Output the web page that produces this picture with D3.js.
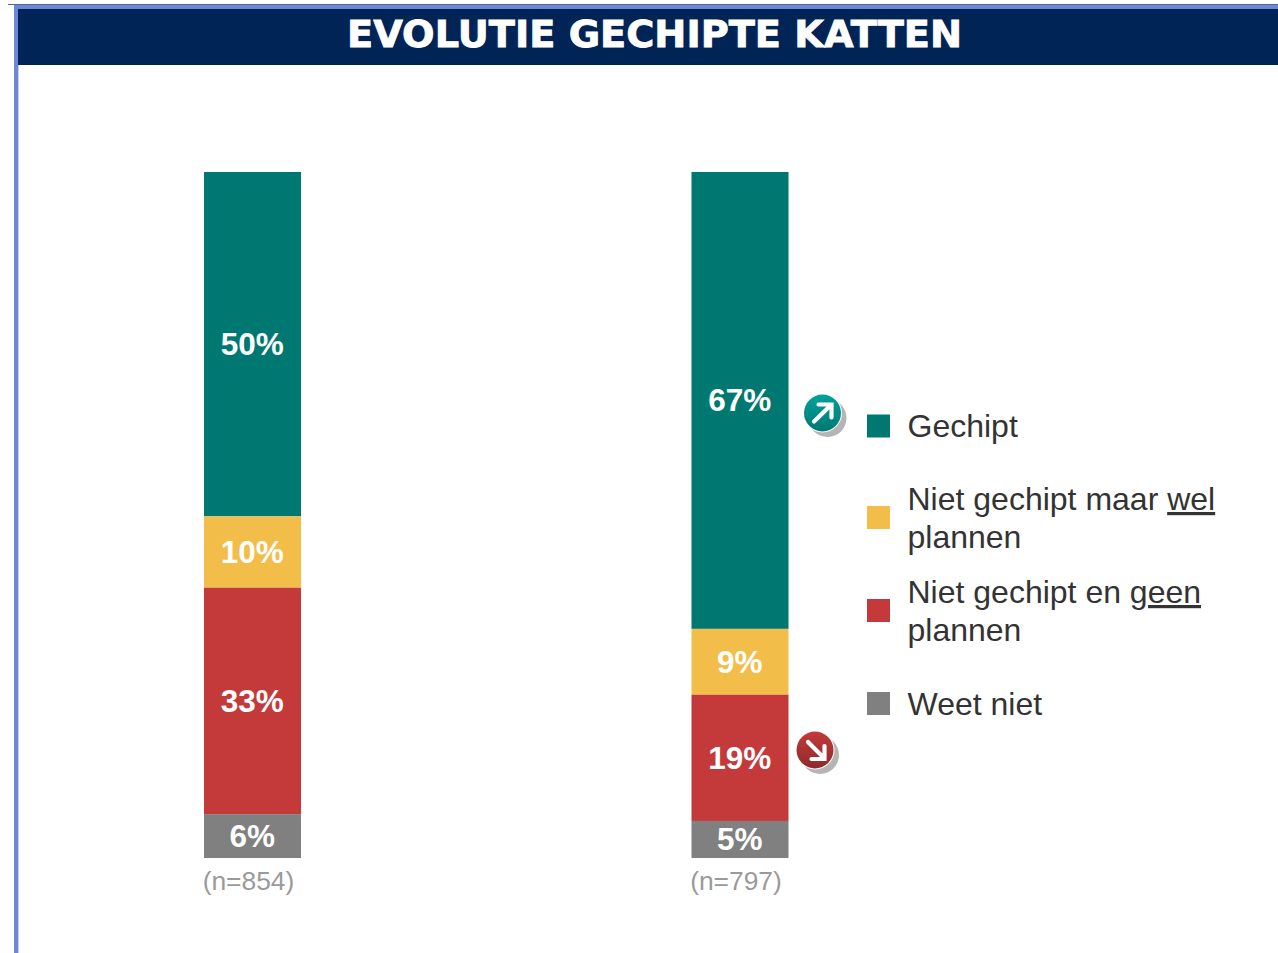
<!DOCTYPE html>
<html><head><meta charset="utf-8">
<script src="https://cdnjs.cloudflare.com/ajax/libs/d3/7.8.5/d3.min.js"></script>
<style>html,body{margin:0;padding:0;background:#fff;overflow:hidden}svg{display:block}text,tspan{text-decoration-skip-ink:none}</style>
</head><body><svg id="c" width="1278" height="953"></svg>
<script>
const title = "EVOLUTIE GECHIPTE KATTEN";
const groups = ["2019", "2022"];
const sampleLabels = ["(n=854)", "(n=797)"];
const seriesNames = ["Gechipt", "Niet gechipt maar wel plannen", "Niet gechipt en geen plannen", "Weet niet"];
const seriesColors = ["#007872", "#f2bd49", "#c43a3a", "#808080"];
const gechipt = [50.2, 66.6];
const nietMaarWel = [10.4, 9.6];
const nietEnGeen = [33.0, 18.4];
const weetNiet = [6.4, 5.4];
const gechiptLabels = ["50%", "67%"];
const nietMaarWelLabels = ["10%", "9%"];
const nietEnGeenLabels = ["33%", "19%"];
const weetNietLabels = ["6%", "5%"];

const svg = d3.select("#c");
const font = "'Liberation Sans', Arial, sans-serif";

// Slide frame
svg.append("rect").attr("x",8).attr("y",4).attr("width",1270).attr("height",1).attr("fill","#55688f");
svg.append("rect").attr("x",14).attr("y",5).attr("width",1264).attr("height",4).attr("fill","#6f86d6");
svg.append("rect").attr("x",14).attr("y",5).attr("width",4).attr("height",948).attr("fill","#6f86d6");
svg.append("rect").attr("x",18).attr("y",65).attr("width",1).attr("height",888).attr("fill","#c3cdf0");
svg.append("rect").attr("x",18).attr("y",9).attr("width",1260).attr("height",56).attr("fill","#002455");
svg.append("text").attr("x",347).attr("y",47)
  .attr("font-family","'DejaVu Sans', Verdana, sans-serif").attr("font-weight",700)
  .attr("font-size",36.5).attr("fill","#fff").attr("stroke","#fff").attr("stroke-width",0.8)
  .attr("textLength",615).attr("lengthAdjust","spacingAndGlyphs").text(title);

const x = d3.scaleOrdinal().domain(groups).range([204, 691.5]);
const barW = 97;
const y = d3.scaleLinear().domain([0,100]).range([858,172]);

const rows = groups.map((g,i)=>({group:g, a:gechipt[i], b:nietMaarWel[i], c:nietEnGeen[i], d:weetNiet[i]}));
const keys = ["a","b","c","d"];
const labelSets = [gechiptLabels, nietMaarWelLabels, nietEnGeenLabels, weetNietLabels];
const stack = d3.stack().keys(keys).order(d3.stackOrderReverse)(rows);

stack.forEach(layer=>{
  const si = keys.indexOf(layer.key);
  const g = svg.append("g");
  g.selectAll("rect").data(layer).join("rect")
    .attr("x",d=>x(d.data.group)).attr("width",barW)
    .attr("y",d=>y(d[1])).attr("height",d=>y(d[0])-y(d[1]))
    .attr("fill",seriesColors[si]);
  g.selectAll("text").data(layer).join("text")
    .attr("x",d=>x(d.data.group)+barW/2-0.3)
    .attr("y",d=>(y(d[0])+y(d[1]))/2+11)
    .attr("text-anchor","middle").attr("font-family",font).attr("font-weight",700)
    .attr("font-size",31.5).attr("fill","#fff")
    .text((d,i)=>labelSets[si][i]);
});

svg.append("g").selectAll("text").data(groups).join("text")
  .attr("x",d=>x(d)+44.5).attr("y",890).attr("text-anchor","middle")
  .attr("font-family",font).attr("font-size",26.4).attr("fill","#9a9a9a")
  .text((d,i)=>sampleLabels[i]);

// Legend
const legendSwatchY = [426, 517.5, 610.5, 703.5];
const legendLines = [
  [[{t:"Gechipt"}]],
  [[{t:"Niet gechipt maar "},{t:"wel",u:true}],[{t:"plannen"}]],
  [[{t:"Niet gechipt en "},{t:"geen",u:true}],[{t:"plannen"}]],
  [[{t:"Weet niet"}]]
];
const legendFirstBase = [437, 510, 603, 715];
const leg = svg.append("g");
seriesNames.forEach((n,i)=>{
  leg.append("rect").attr("x",867).attr("y",legendSwatchY[i]-11.5).attr("width",23).attr("height",23).attr("fill",seriesColors[i]);
  legendLines[i].forEach((ln,j)=>{
    const t = leg.append("text").attr("x",907.5).attr("y",legendFirstBase[i]+j*38)
      .attr("font-family",font).attr("font-size",32).attr("fill","#333");
    ln.forEach(s=>{ const sp=t.append("tspan").text(s.t);
      if(s.u) sp.attr("text-decoration","underline"); });
  });
});

// Trend badges
const defs = svg.append("defs");
function grad(id,top,bot){
  const g=defs.append("linearGradient").attr("id",id).attr("x1",0).attr("y1",0).attr("x2",0).attr("y2",1);
  g.append("stop").attr("offset","0").attr("stop-color",top);
  g.append("stop").attr("offset","1").attr("stop-color",bot);
}
grad("gUp","#00a39c","#007872");
grad("gDown","#c43a3a","#8e2a2a");
function badge(cx,cy,fill,up){
  const g=svg.append("g").attr("transform",`translate(${cx},${cy})`);
  g.append("circle").attr("cx",5).attr("cy",5).attr("r",19).attr("fill","#b5b5b5");
  g.append("circle").attr("r",19.5).attr("fill","#fff");
  g.append("circle").attr("r",18.5).attr("fill",`url(#${fill})`);
  const p = up ? "M-8.5,8.5L8.5,-8M-4,-8.5H9V4.5" : "M-7,-8L9,8M9.5,-4V9H-3.5";
  g.append("path").attr("d",p).attr("fill","none").attr("stroke","#fff").attr("stroke-width",4.2).attr("stroke-linecap","round").attr("stroke-linejoin","miter");
}
badge(822.5,413,"gUp",true);
badge(815,750,"gDown",false);
</script></body></html>
